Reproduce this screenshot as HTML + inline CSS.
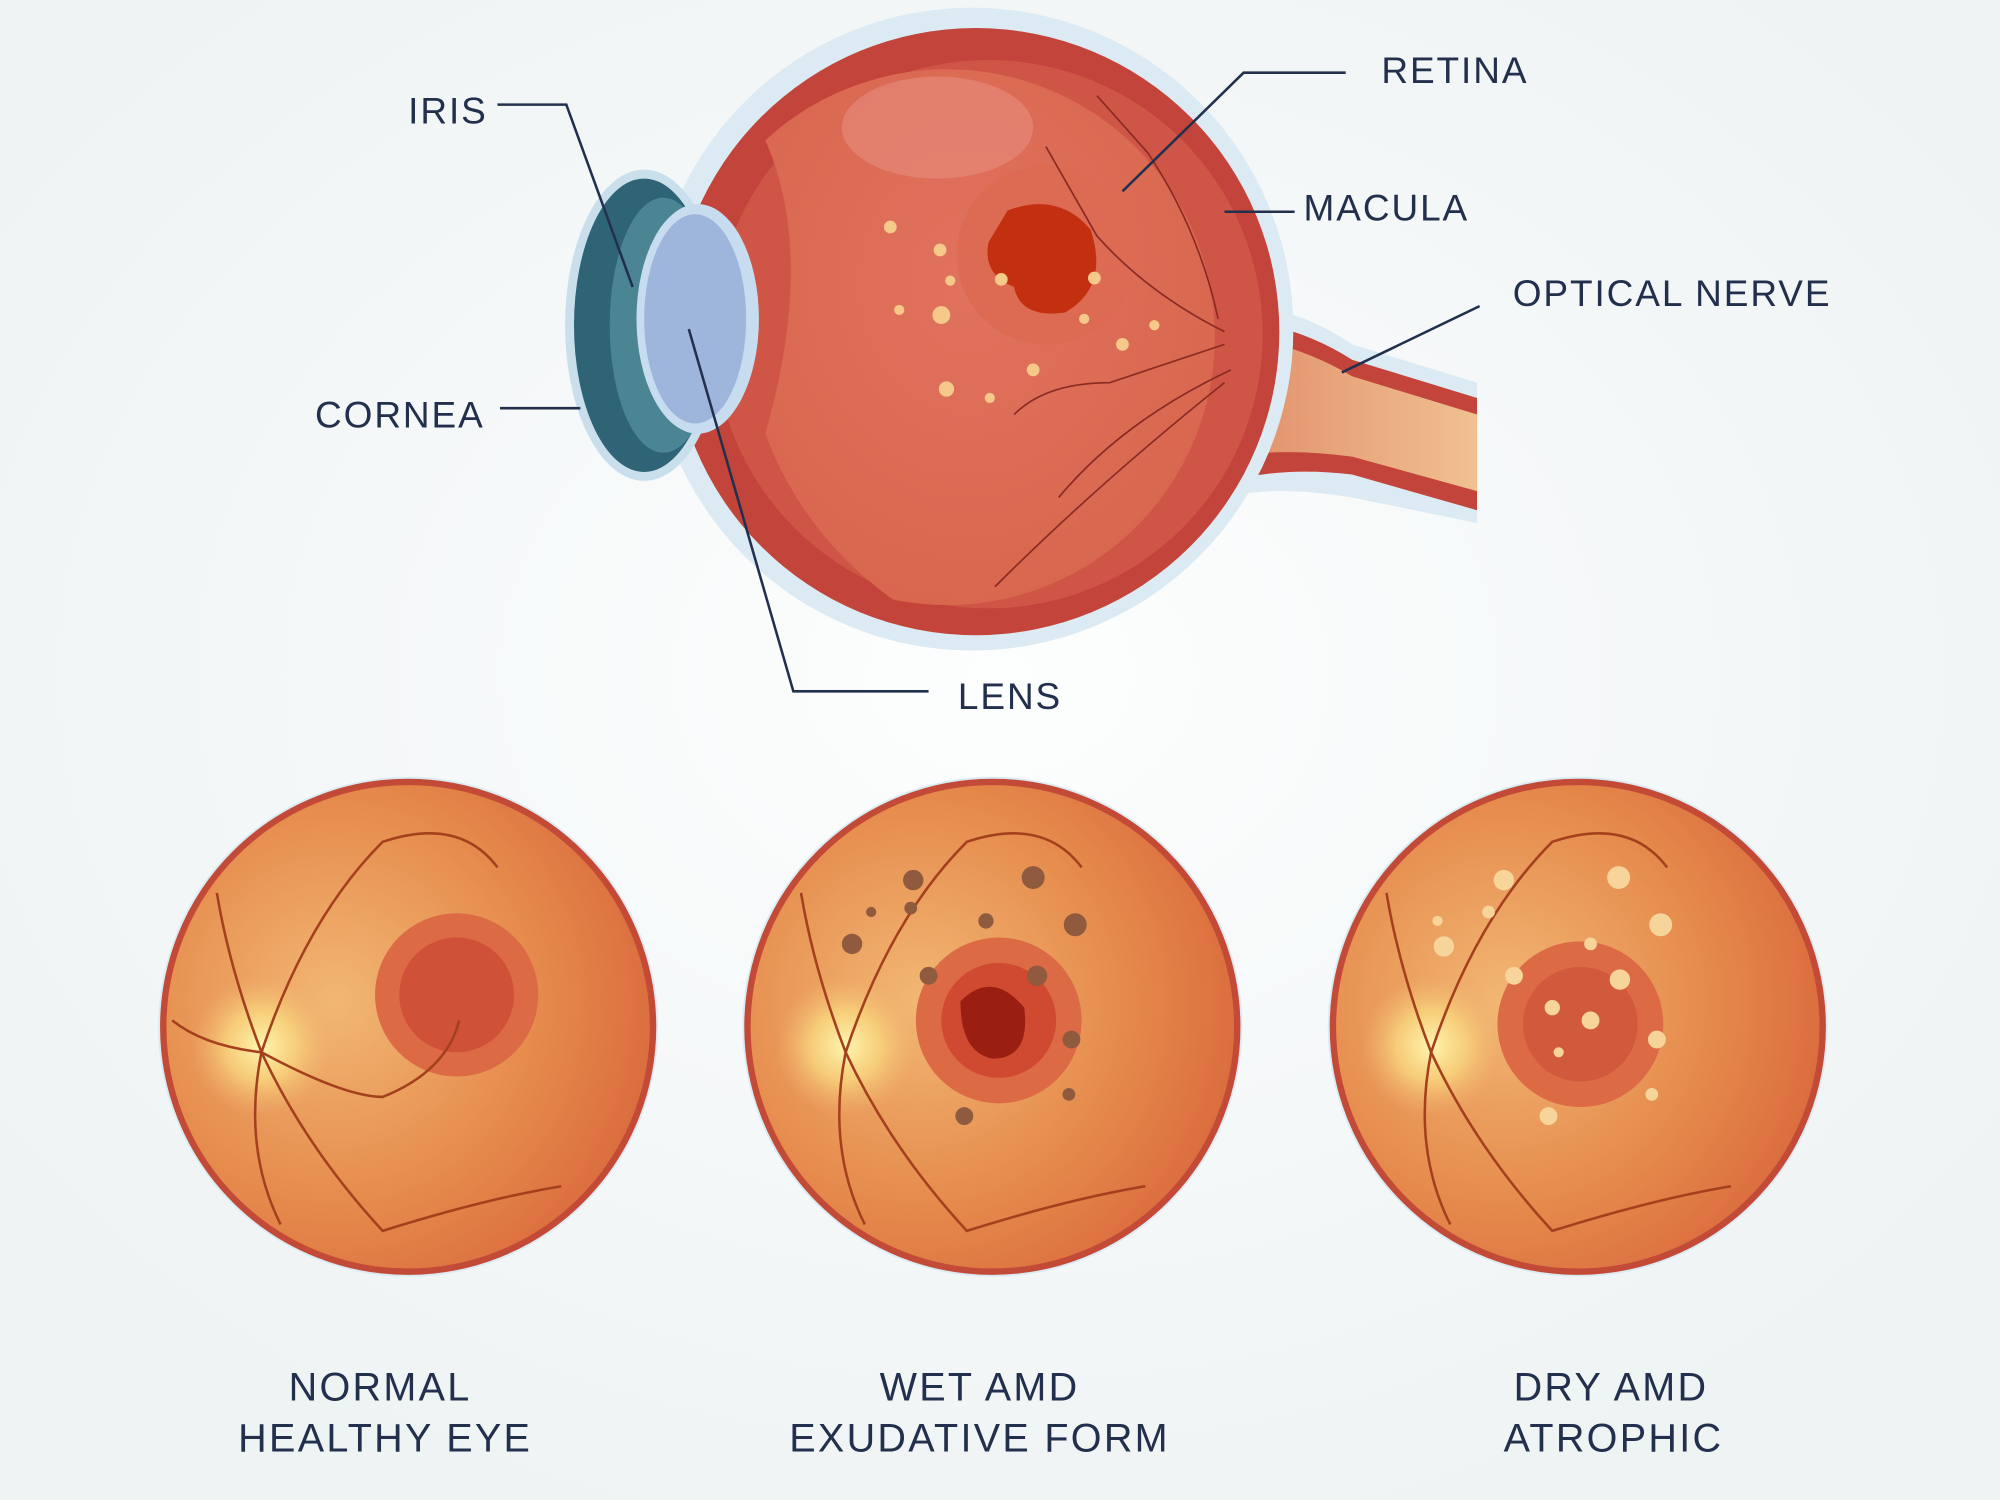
<!DOCTYPE html>
<html><head><meta charset="utf-8"><style>
html,body{margin:0;padding:0;background:#f3f6f7;}
svg{display:block;}
text{font-family:"Liberation Sans",sans-serif;fill:#22304d;font-size:29px;letter-spacing:1.5px;}
text.cap{font-size:31px;letter-spacing:1.8px;}
</style></head><body>
<svg width="2000" height="1500" viewBox="0 0 1568 1176" xmlns="http://www.w3.org/2000/svg">
<defs>
<radialGradient id="bg" cx="50%" cy="45%" r="60%"><stop offset="0" stop-color="#fdfefe"/><stop offset="1" stop-color="#eef3f4"/></radialGradient>
<radialGradient id="eyeIn" cx="45%" cy="40%" r="60%"><stop offset="0" stop-color="#e0725e"/><stop offset="1" stop-color="#d9674f"/></radialGradient>
<radialGradient id="fund" cx="35%" cy="45%" r="70%"><stop offset="0" stop-color="#f2b774"/><stop offset="0.6" stop-color="#e58a4c"/><stop offset="1" stop-color="#d9683c"/></radialGradient>
<radialGradient id="disc"><stop offset="0" stop-color="#fff6b0"/><stop offset="0.5" stop-color="#f9d77e" stop-opacity="0.8"/><stop offset="1" stop-color="#f2b774" stop-opacity="0"/></radialGradient>
<linearGradient id="nerve" x1="0" y1="0" x2="1" y2="0"><stop offset="0" stop-color="#e08a68"/><stop offset="1" stop-color="#f0c190"/></linearGradient>
</defs>
<rect width="1568" height="1176" fill="url(#bg)"/>
<path d="M950 240 Q1010 235 1060 270 L1158 300 L1158 410 L1060 390 Q1000 380 960 390 Z" fill="#dceaf3"/>
<path d="M950 250 Q1010 250 1060 282 L1158 312 L1158 400 L1060 372 Q1000 365 955 380 Z" fill="#c2443a"/>
<path d="M950 262 Q1010 265 1060 295 L1158 325 L1158 385 L1060 358 Q1000 350 955 360 Z" fill="url(#nerve)"/>
<circle cx="762" cy="258" r="252" fill="#dceaf3"/>
<circle cx="765" cy="260" r="238" fill="#c2443a"/>
<circle cx="775" cy="262" r="215" fill="#cf5546"/>
<path d="M600 110 Q640 200 600 340 Q630 420 700 470 A210 210 0 1 0 600 110 Z" fill="url(#eyeIn)"/>
<ellipse cx="735" cy="100" rx="75" ry="40" fill="#e58877" opacity="0.7"/>
<circle cx="820" cy="200" r="70" fill="#dd6a52"/>
<path d="M790 165 Q830 150 855 180 Q870 225 835 245 Q800 250 795 225 Q770 215 775 190 Z" fill="#c2300f"/>
<g fill="#f5c98a">
<circle cx="698" cy="178" r="5"/><circle cx="737" cy="196" r="5"/><circle cx="745" cy="220" r="4"/><circle cx="738" cy="247" r="7"/><circle cx="705" cy="243" r="4"/><circle cx="742" cy="305" r="6"/><circle cx="785" cy="219" r="5"/><circle cx="858" cy="218" r="5"/><circle cx="880" cy="270" r="5"/><circle cx="905" cy="255" r="4"/><circle cx="810" cy="290" r="5"/><circle cx="776" cy="312" r="4"/><circle cx="850" cy="250" r="4"/>
</g>
<g fill="none" stroke="#8a2a22" stroke-width="1.3">
<path d="M960 260 Q900 230 860 185 Q840 150 820 115"/><path d="M960 270 Q900 290 870 300 Q820 300 795 325"/><path d="M965 290 Q880 330 830 390"/><path d="M955 250 Q940 180 900 120 L860 75"/><path d="M960 300 Q860 380 780 460"/>
</g>
<ellipse cx="505" cy="255" rx="62" ry="122" fill="#c9e0ec"/>
<ellipse cx="505" cy="255" rx="55" ry="115" fill="#2f6476"/>
<ellipse cx="520" cy="255" rx="42" ry="100" fill="#4b8493"/>
<ellipse cx="547" cy="250" rx="48" ry="90" fill="#c8dcef"/>
<ellipse cx="545" cy="250" rx="40" ry="82" fill="#9fb6dc"/>
<g fill="none" stroke="#22304d" stroke-width="2">
<path d="M390 82 H444 L496 225"/><path d="M392 320 H455"/><path d="M1055 57 H975 L880 150"/><path d="M1015 166 H960"/><path d="M1160 240 L1052 292"/><path d="M728 542 H622 L540 258"/>
</g>
<text x="320" y="97">IRIS</text>
<text x="247" y="335">CORNEA</text>
<text x="1083" y="65">RETINA</text>
<text x="1022" y="173">MACULA</text>
<text x="1186" y="240">OPTICAL NERVE</text>
<text x="751" y="556">LENS</text>
<g>
<circle cx="320" cy="805" r="196" fill="#dceaf3"/>
<circle cx="320" cy="805" r="192" fill="url(#fund)" stroke="#c24a36" stroke-width="5"/>
<circle cx="205" cy="820" r="55" fill="url(#disc)"/>
<circle cx="358" cy="780" r="64" fill="#dc6a45"/>
<circle cx="358" cy="780" r="45" fill="#cf5137"/>
<g fill="none" stroke="#a5401e" stroke-width="2"><path d="M205 825 Q240 720 300 660 Q360 640 390 680"/><path d="M205 825 Q270 860 300 860 Q350 840 360 800"/><path d="M205 825 Q240 900 300 965 Q380 940 440 930"/><path d="M205 825 Q180 760 170 700"/><path d="M205 825 Q160 820 135 800"/><path d="M205 825 Q190 900 220 960"/></g>
</g>
<g transform="translate(458 0)">
<circle cx="320" cy="805" r="196" fill="#dceaf3"/>
<circle cx="320" cy="805" r="192" fill="url(#fund)" stroke="#c24a36" stroke-width="5"/>
<circle cx="205" cy="820" r="55" fill="url(#disc)"/>
<circle cx="325" cy="800" r="65" fill="#dc6a45"/><circle cx="325" cy="800" r="45" fill="#cf4a30"/>
<path d="M295 785 Q320 760 345 790 Q350 830 320 830 Q295 825 295 785Z" fill="#9a1f12"/>
<g fill="none" stroke="#a5401e" stroke-width="2"><path d="M205 825 Q240 720 300 660 Q360 640 390 680"/><path d="M205 825 Q240 900 300 965 Q380 940 440 930"/><path d="M205 825 Q180 760 170 700"/><path d="M205 825 Q190 900 220 960"/></g>
<g fill="#8f5a3e"><circle cx="258" cy="690" r="8"/><circle cx="352" cy="688" r="9"/><circle cx="210" cy="740" r="8"/><circle cx="385" cy="725" r="9"/><circle cx="315" cy="722" r="6"/><circle cx="270" cy="765" r="7"/><circle cx="355" cy="765" r="8"/><circle cx="382" cy="815" r="7"/><circle cx="298" cy="875" r="7"/><circle cx="380" cy="858" r="5"/><circle cx="225" cy="715" r="4"/><circle cx="256" cy="712" r="5"/></g>
</g>
<g transform="translate(917 0)">
<circle cx="320" cy="805" r="196" fill="#dceaf3"/>
<circle cx="320" cy="805" r="192" fill="url(#fund)" stroke="#c24a36" stroke-width="5"/>
<circle cx="205" cy="820" r="55" fill="url(#disc)"/>
<circle cx="322" cy="803" r="65" fill="#dc6a45"/><circle cx="322" cy="803" r="45" fill="#d25a3c"/>
<g fill="none" stroke="#a5401e" stroke-width="2"><path d="M205 825 Q240 720 300 660 Q360 640 390 680"/><path d="M205 825 Q240 900 300 965 Q380 940 440 930"/><path d="M205 825 Q180 760 170 700"/><path d="M205 825 Q190 900 220 960"/></g>
<g fill="#f7d49a"><circle cx="262" cy="690" r="8"/><circle cx="352" cy="688" r="9"/><circle cx="215" cy="742" r="8"/><circle cx="385" cy="725" r="9"/><circle cx="250" cy="715" r="5"/><circle cx="330" cy="740" r="5"/><circle cx="270" cy="765" r="7"/><circle cx="353" cy="768" r="8"/><circle cx="300" cy="790" r="6"/><circle cx="330" cy="800" r="7"/><circle cx="305" cy="825" r="4"/><circle cx="382" cy="815" r="7"/><circle cx="297" cy="875" r="7"/><circle cx="378" cy="858" r="5"/><circle cx="210" cy="722" r="4"/></g>
</g>
<text class="cap" x="298" y="1098" text-anchor="middle">NORMAL</text><text class="cap" x="302" y="1138" text-anchor="middle">HEALTHY EYE</text>
<text class="cap" x="768" y="1098" text-anchor="middle">WET AMD</text><text class="cap" x="768" y="1138" text-anchor="middle">EXUDATIVE FORM</text>
<text class="cap" x="1263" y="1098" text-anchor="middle">DRY AMD</text><text class="cap" x="1265" y="1138" text-anchor="middle">ATROPHIC</text>
</svg>
</body></html>
